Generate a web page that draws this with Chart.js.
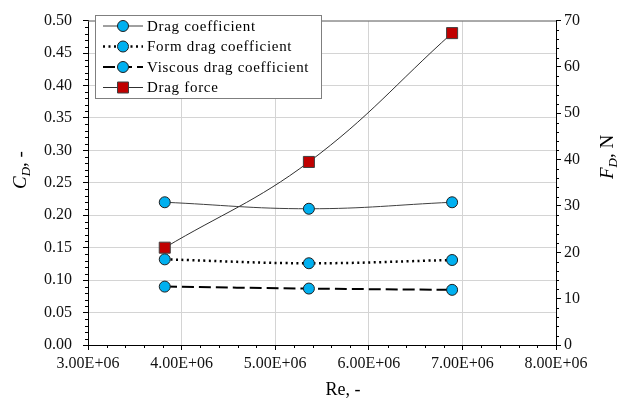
<!DOCTYPE html>
<html>
<head>
<meta charset="utf-8">
<script src="https://cdn.jsdelivr.net/npm/chart.js@4"></script>
<style>
html, body { margin: 0; padding: 0; background: #fff; }
#wrap { width: 625px; height: 403px; position: relative; }
</style>
</head>
<body>
<div id="wrap"><canvas id="myChart"></canvas></div>
<script>
//Data
var reynolds = [3.82e6, 5.36e6, 6.89e6];
var dragCoef = [0.220, 0.210, 0.220];
var formCoef = [0.132, 0.126, 0.131];
var viscousCoef = [0.090, 0.087, 0.085];
var dragForce = [21.0, 39.5, 67.3];

var xTicks = [3e6, 4e6, 5e6, 6e6, 7e6, 8e6];
var serif = "'Liberation Serif', 'Times New Roman', serif";

//Pair the x values with a series
const toPoints = (ys) => ys.map((y, i) => ({x: reynolds[i], y: y}));

const blue = '#00B0F0';
const red = '#C00000';

const data = {
  datasets: [
    {
      label: 'Drag coefficient',
      data: toPoints(dragCoef),
      yAxisID: 'y',
      borderColor: '#404040',
      borderWidth: 1,
      pointBackgroundColor: blue,
      pointBorderColor: '#202020',
      pointBorderWidth: 1,
      pointRadius: 5.5,
      tension: 0.4
    },
    {
      label: 'Form drag coefficient',
      data: toPoints(formCoef),
      yAxisID: 'y',
      borderColor: '#000',
      borderWidth: 2.5,
      borderDash: [2, 3.5],
      pointBackgroundColor: blue,
      pointBorderColor: '#202020',
      pointBorderWidth: 1,
      pointRadius: 5.5,
      tension: 0.4
    },
    {
      label: 'Viscous drag coefficient',
      data: toPoints(viscousCoef),
      yAxisID: 'y',
      borderColor: '#000',
      borderWidth: 2,
      borderDash: [12, 5],
      pointBackgroundColor: blue,
      pointBorderColor: '#202020',
      pointBorderWidth: 1,
      pointRadius: 5.5,
      tension: 0.4
    },
    {
      label: 'Drag force',
      data: toPoints(dragForce),
      yAxisID: 'y1',
      borderColor: '#303030',
      borderWidth: 1,
      pointStyle: 'rect',
      pointBackgroundColor: red,
      pointBorderColor: '#404040',
      pointBorderWidth: 1,
      pointRadius: 7.8,
      tension: 0.4
    }
  ]
};

//Minor tick marks, top border, legend box and axis titles
const extras = {
  id: 'extras',
  afterDraw(chart) {
    const ctx = chart.ctx;
    const a = chart.chartArea;
    const sx = chart.scales.x, sy = chart.scales.y, sy1 = chart.scales.y1;

    ctx.save();
    ctx.strokeStyle = '#707070';
    ctx.lineWidth = 1;
    ctx.beginPath();
    ctx.moveTo(a.left, a.top + 0.5);
    ctx.lineTo(a.right, a.top + 0.5);
    ctx.stroke();

    ctx.strokeStyle = '#000';
    ctx.beginPath();
    for (let v = 3e6; v <= 8e6 + 1; v += 2e5) {
      if (Math.round(v / 1e5) % 10 === 0) continue;
      const px = Math.round(sx.getPixelForValue(v)) + 0.5;
      ctx.moveTo(px, a.bottom);
      ctx.lineTo(px, a.bottom + 3);
    }
    for (let v = 0; v <= 0.5001; v += 0.01) {
      if (Math.round(v * 100) % 5 === 0) continue;
      const py = Math.round(sy.getPixelForValue(v)) + 0.5;
      ctx.moveTo(a.left, py);
      ctx.lineTo(a.left - 3, py);
    }
    for (let v = 0; v <= 70; v += 2) {
      if (v % 10 === 0) continue;
      const py = Math.round(sy1.getPixelForValue(v)) + 0.5;
      ctx.moveTo(a.right, py);
      ctx.lineTo(a.right + 3, py);
    }
    ctx.stroke();

    //Legend
    const lx = 95.5, ly = 15.5, lw = 226, lh = 83;
    ctx.fillStyle = '#fff';
    ctx.fillRect(lx, ly, lw, lh);
    ctx.strokeStyle = '#7f7f7f';
    ctx.strokeRect(lx, ly, lw, lh);
    const rows = [26, 46.5, 67, 87.5];
    ctx.font = '15px ' + serif;
    ctx.textBaseline = 'middle';
    chart.data.datasets.forEach(function(ds, i) {
      const y = rows[i];
      ctx.strokeStyle = ds.borderColor;
      ctx.lineWidth = ds.borderWidth;
      ctx.setLineDash(ds.borderDash || []);
      ctx.beginPath();
      ctx.moveTo(103, y);
      ctx.lineTo(143, y);
      ctx.stroke();
      ctx.setLineDash([]);
      ctx.fillStyle = ds.pointBackgroundColor;
      ctx.strokeStyle = ds.pointBorderColor;
      ctx.lineWidth = 1;
      ctx.beginPath();
      if (ds.pointStyle === 'rect') {
        ctx.rect(117.5, y - 5.5, 11, 11);
      } else {
        ctx.arc(123, y, 5.5, 0, Math.PI * 2);
      }
      ctx.fill();
      ctx.stroke();
      ctx.fillStyle = '#000';
      ctx.letterSpacing = '0.7px';
      ctx.fillText(ds.label, 147, y + 1);
      ctx.letterSpacing = '0px';
    });

    //Axis titles with italic subscripts
    function title(x, y, rot, parts) {
      ctx.save();
      ctx.translate(x, y);
      ctx.rotate(rot);
      ctx.textBaseline = 'alphabetic';
      ctx.fillStyle = '#000';
      let total = 0;
      parts.forEach(function(p) {
        ctx.font = (p.it ? 'italic ' : '') + p.size + 'px ' + serif;
        p.w = ctx.measureText(p.t).width;
        total += p.w;
      });
      let cx = -total / 2;
      parts.forEach(function(p) {
        ctx.font = (p.it ? 'italic ' : '') + p.size + 'px ' + serif;
        ctx.fillText(p.t, cx, 6 + (p.dy || 0));
        cx += p.w;
      });
      ctx.restore();
    }
    title(20, 170, -Math.PI / 2, [
      {t: 'C', it: true, size: 19},
      {t: 'D', it: true, size: 13, dy: 4},
      {t: ', -', size: 19}
    ]);
    title(607, 157, -Math.PI / 2, [
      {t: 'F', it: true, size: 19},
      {t: 'D', it: true, size: 13, dy: 4},
      {t: ', N', size: 19}
    ]);
    title(343, 389, 0, [{t: 'Re, -', size: 18}]);
    ctx.restore();
  }
};

const config = {
  type: 'line',
  data: data,
  plugins: [extras],
  options: {
    responsive: true,
    maintainAspectRatio: false,
    animation: false,
    layout: { padding: { top: 10, left: 0, right: 0, bottom: 0 } },
    plugins: {
      legend: { display: false },
      tooltip: { enabled: false }
    },
    scales: {
      x: {
        type: 'linear',
        min: 3e6,
        max: 8e6,
        afterBuildTicks: function(s) { s.ticks = xTicks.map(v => ({value: v})); },
        afterFit: function(s) { s.height = 58; },
        border: { color: '#000', width: 1 },
        grid: { color: '#d4d4d4', tickColor: '#000', tickLength: 5 },
        ticks: {
          padding: 4,
          color: '#111',
          font: { family: serif, size: 16 },
          maxRotation: 0,
          callback: function(v) { return (v / 1e6).toFixed(2) + 'E+06'; }
        }
      },
      y: {
        position: 'left',
        min: 0,
        max: 0.5,
        afterFit: function(s) { s.width = 88; },
        border: { color: '#000', width: 1 },
        grid: { color: '#d4d4d4', tickColor: '#000', tickLength: 5 },
        ticks: {
          stepSize: 0.05,
          padding: 11,
          color: '#111',
          font: { family: serif, size: 16 },
          callback: function(v) { return v.toFixed(2); }
        }
      },
      y1: {
        position: 'right',
        min: 0,
        max: 70,
        afterFit: function(s) { s.width = 69; },
        border: { color: '#000', width: 1 },
        grid: { drawOnChartArea: false, tickColor: '#000', tickLength: 5 },
        ticks: {
          stepSize: 10,
          padding: 3,
          color: '#111',
          font: { family: serif, size: 16 }
        }
      }
    }
  }
};

var canvas = document.getElementById('myChart').getContext('2d');
var myChart = new Chart(canvas, config);
</script>
</body>
</html>
